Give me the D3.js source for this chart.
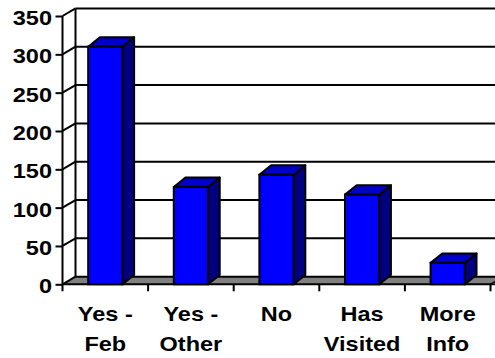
<!DOCTYPE html>
<html>
<head>
<meta charset="utf-8">
<script src="https://cdn.jsdelivr.net/npm/d3@7"></script>
<style>
  html, body { margin: 0; padding: 0; background: #fff; }
  svg { display: block; }
  text { font-family: "Liberation Sans", Arial, sans-serif; font-weight: bold; fill: #000; }
</style>
</head>
<body>
<svg id="chart" width="495" height="358"></svg>
<script>
// Survey responses
const categories = ["Yes - Feb", "Yes - Other", "No", "Has Visited", "More Info"];
const labelLines = [["Yes -", "Feb"], ["Yes -", "Other"], ["No"], ["Has", "Visited"], ["More", "Info"]];
const values = [310, 127, 143, 117, 28];
const yTicks = [0, 50, 100, 150, 200, 250, 300, 350];

const W = 495, H = 358;
const plot = { left: 62.5, right: 490.5, bottom: 284.3, top: 16 };
const wallDepth = { dx: 13, dy: -7.6 };   // offset of back wall from front plane
const barDepth = { dx: 11.7, dy: -9.4 };  // depth of each 3-D column
const fontSize = 21, stretch = 1.12;      // wide bold lettering

const svg = d3.select("#chart");

const y = d3.scaleLinear().domain([0, 350]).range([plot.bottom, plot.top]);
const band = d3.scaleBand().domain(categories).range([plot.left, plot.right]).paddingInner(0).paddingOuter(0);
const x = d3.scaleBand().domain(categories).range([plot.left, plot.right]).paddingInner(0.6).paddingOuter(0.3);

const line = d3.line();

// floor
const floorPts = [
  [plot.left, plot.bottom], [plot.right, plot.bottom],
  [plot.right + wallDepth.dx, plot.bottom + wallDepth.dy],
  [plot.left + wallDepth.dx, plot.bottom + wallDepth.dy]
];
svg.append("path").attr("d", line(floorPts) + "Z")
  .attr("fill", "#808080").attr("stroke", "none");

// back wall gridlines
const bx0 = plot.left + wallDepth.dx, bx1 = W + 20;
svg.append("g").selectAll("line").data(yTicks).join("line")
  .attr("x1", bx0).attr("x2", bx1)
  .attr("y1", d => y(d) + wallDepth.dy).attr("y2", d => y(d) + wallDepth.dy)
  .attr("stroke", "#000").attr("stroke-width", 2);

// back wall left edge
svg.append("line")
  .attr("x1", bx0).attr("x2", bx0)
  .attr("y1", y(0) + wallDepth.dy).attr("y2", y(350) + wallDepth.dy)
  .attr("stroke", "#000").attr("stroke-width", 2);

// side wall gridlines (front tick to back wall)
svg.append("g").selectAll("line").data(yTicks).join("line")
  .attr("x1", plot.left).attr("x2", bx0)
  .attr("y1", d => y(d)).attr("y2", d => y(d) + wallDepth.dy)
  .attr("stroke", "#000").attr("stroke-width", 2);

// floor right edge diagonal
svg.append("line")
  .attr("x1", plot.right).attr("x2", plot.right + wallDepth.dx)
  .attr("y1", plot.bottom).attr("y2", plot.bottom + wallDepth.dy)
  .attr("stroke", "#000").attr("stroke-width", 1.5);

// columns
const bars = svg.append("g").selectAll("g").data(categories).join("g");
bars.each(function (c, i) {
  const g = d3.select(this);
  const x0 = x(c), x1 = x(c) + x.bandwidth();
  const yt = y(values[i]), yb = y(0);
  const dx = barDepth.dx, dy = barDepth.dy;
  // side
  g.append("path").attr("d", line([[x1, yb], [x1, yt], [x1 + dx, yt + dy], [x1 + dx, yb + dy]]) + "Z")
    .attr("fill", "#000080").attr("stroke", "#000").attr("stroke-width", 2).attr("stroke-linejoin", "round");
  // top
  g.append("path").attr("d", line([[x0, yt], [x0 + dx, yt + dy], [x1 + dx, yt + dy], [x1, yt]]) + "Z")
    .attr("fill", "#0000C8").attr("stroke", "#000").attr("stroke-width", 2).attr("stroke-linejoin", "round");
  // front
  g.append("rect").attr("x", x0).attr("y", yt).attr("width", x1 - x0).attr("height", yb - yt)
    .attr("fill", "#0000FF").attr("stroke", "#000").attr("stroke-width", 2);
});

// x axis front edge with category ticks
const xAxis = d3.axisBottom(band).tickSize(0).tickFormat("");
const gx = svg.append("g").attr("transform", `translate(0,${plot.bottom})`).call(xAxis);
gx.select(".domain").attr("d", `M${plot.left},0H${W + 5}`).attr("stroke", "#000").attr("stroke-width", 2);
gx.selectAll(".tick").remove();
const boundaries = d3.range(categories.length + 1).map(i => plot.left + i * band.step());
gx.selectAll("line.bt").data(boundaries.slice(1)).join("line").attr("class", "bt")
  .attr("x1", d => d).attr("x2", d => d).attr("y1", 0).attr("y2", 7)
  .attr("stroke", "#000").attr("stroke-width", 2);

// category labels
const lab = svg.append("g").selectAll("text").data(categories).join("text")
  .attr("text-anchor", "middle").style("font-size", fontSize + "px")
  .attr("transform", c => `translate(${band(c) + band.bandwidth() / 2},0) scale(${stretch},1)`);
lab.each(function (c, i) {
  const t = d3.select(this);
  labelLines[i].forEach((s, k) => {
    t.append("tspan").attr("x", 0).attr("y", 321 + k * 30).text(s);
  });
});

// y axis
const yAxis = d3.axisLeft(y).tickValues(yTicks).tickSize(7).tickPadding(4).tickFormat(d3.format("d"));
const gy = svg.append("g").attr("transform", `translate(${plot.left},0)`).call(yAxis);
gy.attr("font-family", null).attr("font-size", null);
gy.select(".domain").attr("d", `M0,${plot.top}V${plot.bottom + 7}`).attr("stroke", "#000").attr("stroke-width", 2);
gy.selectAll(".tick line").attr("stroke", "#000").attr("stroke-width", 2);
gy.selectAll(".tick text")
  .attr("x", 0).attr("dy", "0.36em")
  .attr("transform", `translate(-10.5,1) scale(${stretch},1)`)
  .style("font-size", fontSize + "px").attr("fill", "#000")
  .style("font-family", "'Liberation Sans', Arial, sans-serif").style("font-weight", "bold");
</script>
</body>
</html>
